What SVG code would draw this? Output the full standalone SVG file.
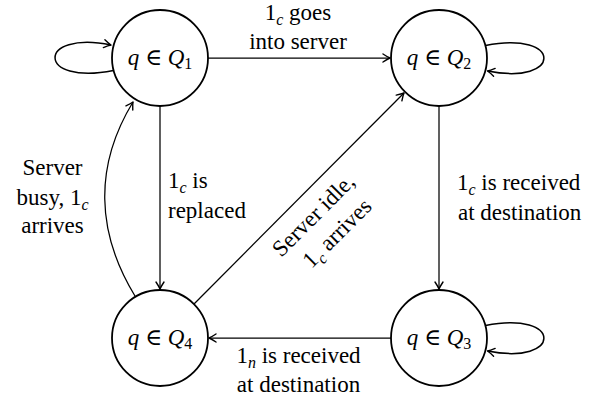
<svg xmlns="http://www.w3.org/2000/svg" width="608" height="403" viewBox="0 0 608 403" font-family="'Liberation Serif', 'Times New Roman', 'DejaVu Serif', serif">
<style>
.node circle{fill:#fff;stroke:#000;stroke-width:1.8}
.edge{fill:none;stroke:#000;stroke-width:1.25;marker-end:url(#arr)}
.loop{fill:none;stroke:#000;stroke-width:1.5;marker-end:url(#arr)}
text{font-family:'Liberation Serif','Times New Roman','DejaVu Serif',serif;font-size:23px;fill:#000}
.m{font-style:italic}
.sub{font-style:italic;font-size:16px}
.nsub{font-size:16px}
.mid{text-anchor:middle}
</style>
<defs>
<marker id="arr" markerUnits="userSpaceOnUse" markerWidth="12" markerHeight="12" viewBox="-8 -6 10 12" refX="0" refY="0" orient="auto" overflow="visible">
<path d="M-7,-4 Q-2.5,-1 0,0 Q-2.5,1 -7,4" fill="none" stroke="#000" stroke-width="1.4" stroke-linecap="round" stroke-linejoin="round"/>
</marker>
</defs>
<rect width="608" height="403" fill="#fff"/>
<g id="edges">
<path class="edge" d="M208,58 L390,58"/>
<path class="edge" d="M160,106 L160,289"/>
<path class="edge" d="M439,106 L439,289"/>
<path class="edge" d="M391,338 L209,338"/>
<path class="edge" d="M194,304 L404,93"/>
<path class="edge" d="M135,296 C96,232 94,166 133,102"/>
<path class="loop" d="M113.5,70.5 C36,86 36,30 111,45"/>
<path class="loop" d="M485.5,45.5 C563,30 563,86 487.5,71"/>
<path class="loop" d="M485.5,325.5 C563,310 563,366 487.5,351"/>
</g>
<g id="labels">
<text class="mid" x="298" y="20">1<tspan class="sub" dy="5">c</tspan><tspan dy="-5">  goes</tspan></text>
<text class="mid" x="298" y="49">into server</text>
<text class="mid" x="52.5" y="175">Server</text>
<text class="mid" x="52.5" y="204.5">busy, 1<tspan class="sub" dy="5">c</tspan></text>
<text class="mid" x="52.5" y="233">arrives</text>
<text x="168" y="188">1<tspan class="sub" dy="5">c</tspan><tspan dy="-5">  is</tspan></text>
<text x="168" y="218">replaced</text>
<text x="457" y="190">1<tspan class="sub" dy="5">c</tspan><tspan dy="-5">  is received</tspan></text>
<text x="458" y="220">at destination</text>
<text class="mid" x="298.5" y="363">1<tspan class="sub" dy="5">n</tspan><tspan dy="-5">  is received</tspan></text>
<text class="mid" x="298.5" y="392">at destination</text>
<g transform="translate(325,224) rotate(-45)">
<text class="mid" x="-2" y="-7">Server idle,</text>
<text class="mid" x="2" y="22.5">1<tspan class="sub" dy="5">c</tspan><tspan dy="-5">  arrives</tspan></text>
</g>
</g>
<g id="Q1" class="node"><circle cx="160" cy="58" r="48"/><text class="mid" x="160" y="65"><tspan class="m">q</tspan> ∈ <tspan class="m">Q</tspan><tspan class="nsub" dy="4">1</tspan></text></g>
<g id="Q2" class="node"><circle cx="439" cy="58" r="48"/><text class="mid" x="439" y="65"><tspan class="m">q</tspan> ∈ <tspan class="m">Q</tspan><tspan class="nsub" dy="4">2</tspan></text></g>
<g id="Q3" class="node"><circle cx="439" cy="338" r="48"/><text class="mid" x="439" y="345"><tspan class="m">q</tspan> ∈ <tspan class="m">Q</tspan><tspan class="nsub" dy="4">3</tspan></text></g>
<g id="Q4" class="node"><circle cx="160" cy="338" r="48"/><text class="mid" x="160" y="345"><tspan class="m">q</tspan> ∈ <tspan class="m">Q</tspan><tspan class="nsub" dy="4">4</tspan></text></g>
</svg>
